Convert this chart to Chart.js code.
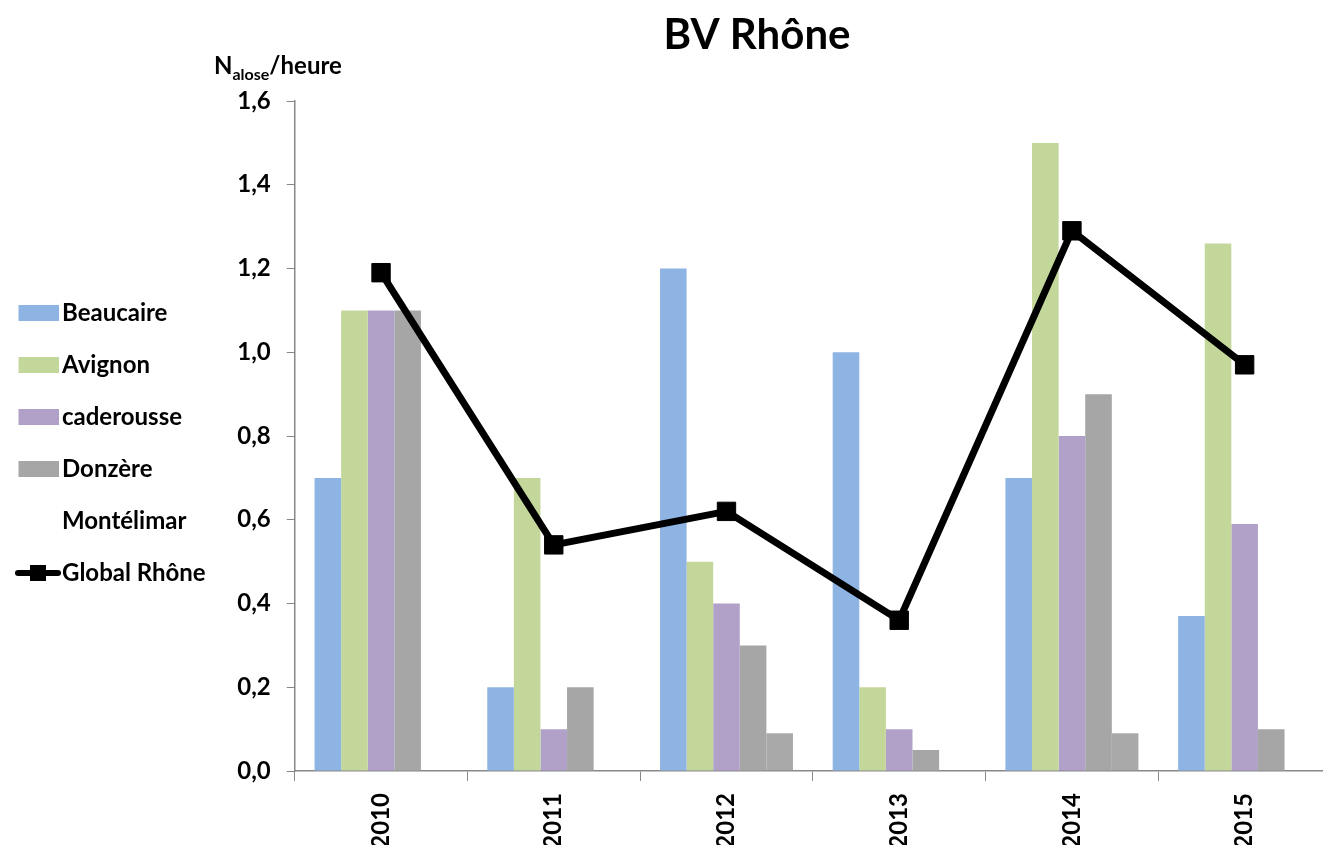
<!DOCTYPE html>
<html>
<head>
<meta charset="utf-8">
<script src="https://cdn.jsdelivr.net/npm/chart.js@4"></script>
<style>
  html, body { margin: 0; padding: 0; background: #fff; overflow: hidden; }
  #wrap { position: relative; width: 1345px; height: 845px; }
</style>
</head>
<body>
<div id="wrap"><canvas id="chart"></canvas></div>
<script>
const years = ['2010', '2011', '2012', '2013', '2014', '2015'];
const beaucaire = [0.70, 0.20, 1.20, 1.00, 0.70, 0.37];
const avignon = [1.10, 0.70, 0.50, 0.20, 1.50, 1.26];
const caderousse = [1.10, 0.10, 0.40, 0.10, 0.80, 0.59];
const donzere = [1.10, 0.20, 0.30, 0.05, 0.90, 0.10];
const montelimar = [null, null, 0.09, null, 0.09, null];
const globalRhone = [1.19, 0.54, 0.62, 0.36, 1.29, 0.97];

const FONT = 'Lato';

// legend icons, drawn a bit right of centre so they line up like the original
function swatch(color) {
  const c = document.createElement('canvas');
  c.width = 51; c.height = 16;
  const g = c.getContext('2d');
  g.fillStyle = color;
  g.fillRect(11, 0, 40, 16);
  return c;
}
function lineIcon() {
  const c = document.createElement('canvas');
  c.width = 56; c.height = 18;
  const g = c.getContext('2d');
  g.strokeStyle = '#000';
  g.lineWidth = 6;
  g.lineCap = 'round';
  g.beginPath(); g.moveTo(13, 9); g.lineTo(53, 9); g.stroke();
  g.fillStyle = '#000';
  g.fillRect(25, 1, 16, 16);
  return c;
}
const icons = [swatch('#8eb4e3'), swatch('#c4d79b'), swatch('#b1a0c7'), swatch('#a6a6a6'), swatch('rgba(0,0,0,0)'), lineIcon()];

const titles = {
  id: 'titles',
  afterLayout(chart) {
    // lift the legend block so it sits where the original had it
    const lg = chart.legend;
    if (lg) { lg.top -= 30; lg.bottom -= 30; }
  },
  afterDraw(chart) {
    const ctx = chart.ctx;
    ctx.save();
    ctx.fillStyle = '#000';
    ctx.textBaseline = 'middle';
    ctx.textAlign = 'center';
    ctx.font = `bold 42px ${FONT}`;
    ctx.fillText('BV Rhône', 757, 35);
    ctx.textAlign = 'left';
    ctx.textBaseline = 'alphabetic';
    let x = 214;
    ctx.font = `bold 24px ${FONT}`;
    ctx.fillText('N', x, 74);
    x += ctx.measureText('N').width;
    ctx.font = `bold 16px ${FONT}`;
    ctx.fillText('alose', x, 80);
    x += ctx.measureText('alose').width;
    ctx.font = `bold 24px ${FONT}`;
    ctx.fillText('/heure', x, 74);
    ctx.restore();
  }
};

new Chart(document.getElementById('chart'), {
  type: 'bar',
  data: {
    labels: years,
    datasets: [
      { label: 'Beaucaire', data: beaucaire, backgroundColor: '#8eb4e3' },
      { label: 'Avignon', data: avignon, backgroundColor: '#c4d79b' },
      { label: 'caderousse', data: caderousse, backgroundColor: '#b1a0c7' },
      { label: 'Donzère', data: donzere, backgroundColor: '#a6a6a6' },
      { label: 'Montélimar', data: montelimar, backgroundColor: 'rgba(160,160,160,0.9)' },
      {
        type: 'line', label: 'Global Rhône', data: globalRhone, order: -1,
        borderColor: '#000', backgroundColor: '#000', borderWidth: 7,
        pointStyle: 'rect', pointRadius: 13, pointBorderWidth: 1, tension: 0
      }
    ]
  },
  options: {
    responsive: true,
    maintainAspectRatio: false,
    animation: false,
    categoryPercentage: 0.77,
    barPercentage: 1.0,
    layout: { padding: { top: 101, right: 0, bottom: 0, left: -12 } },
    plugins: {
      tooltip: { enabled: false },
      title: { display: false },
      legend: {
        position: 'left',
        labels: {
          usePointStyle: true,
          pointStyleWidth: 34,
          padding: 28,
          color: '#000',
          font: { family: FONT, size: 24, weight: 'bold' },
          sort: (a, b) => a.datasetIndex - b.datasetIndex,
          generateLabels(chart) {
            const items = Chart.defaults.plugins.legend.labels.generateLabels(chart);
            items.forEach(it => { it.pointStyle = icons[it.datasetIndex]; });
            return items;
          }
        }
      }
    },
    scales: {
      x: {
        grid: { drawOnChartArea: false, tickLength: 10, color: '#888', offset: true },
        border: { color: '#888', width: 1.5 },
        ticks: {
          color: '#000', minRotation: 90, maxRotation: 90, autoSkip: false, padding: 12,
          font: { family: FONT, size: 24, weight: 'bold' }
        },
        afterFit(scale) { scale.height = 74; }
      },
      y: {
        min: 0, max: 1.6,
        grid: { drawOnChartArea: false, tickLength: 8, color: '#888' },
        border: { color: '#888', width: 1.5 },
        ticks: {
          stepSize: 0.2, color: '#000', padding: 16,
          font: { family: FONT, size: 24, weight: 'bold' },
          callback: v => v.toFixed(1).replace('.', ',')
        },
        afterFit(scale) { scale.width = 79; }
      }
    }
  },
  plugins: [titles]
});
</script>
</body>
</html>
